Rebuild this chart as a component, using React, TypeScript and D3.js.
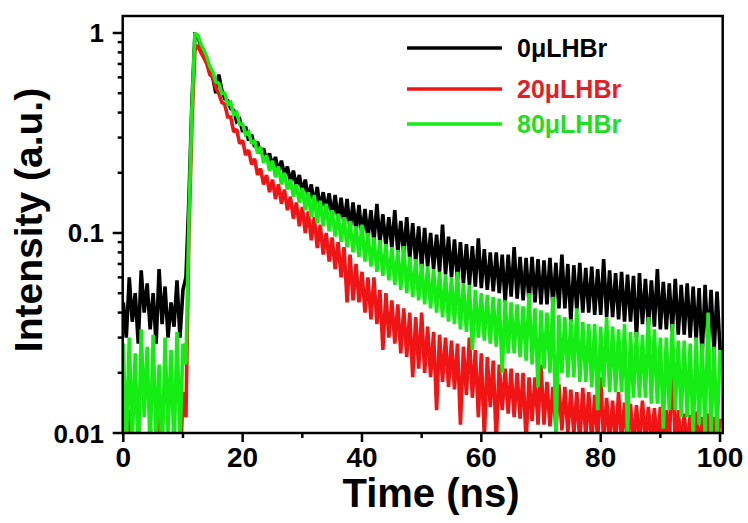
import React, { useEffect, useRef } from "react";
import * as d3 from "d3";

// decay traces, one sample every 0.5 ns from 0 to 100 ns
const timeStep = 0.5;

const intensity0 = [
  0.045, 0.03, 0.06, 0.036, 0.05, 0.028, 0.065, 0.04, 0.056, 0.033,
  0.05, 0.028, 0.066, 0.035, 0.054, 0.03, 0.045, 0.034, 0.058, 0.03,
  0.052, 0.06, 0.15, 0.45, 0.98, 0.96, 0.86, 0.8, 0.72, 0.64,
  0.6, 0.5, 0.62, 0.52, 0.47, 0.46, 0.42, 0.41, 0.36, 0.37,
  0.32, 0.34, 0.29, 0.31, 0.27, 0.285, 0.25, 0.265, 0.23, 0.25,
  0.215, 0.24, 0.2, 0.23, 0.195, 0.215, 0.18, 0.205, 0.17, 0.195,
  0.16, 0.185, 0.148, 0.175, 0.138, 0.17, 0.132, 0.16, 0.128, 0.158,
  0.12, 0.155, 0.115, 0.15, 0.11, 0.148, 0.104, 0.142, 0.102, 0.138,
  0.097, 0.132, 0.094, 0.13, 0.09, 0.14, 0.089, 0.124, 0.086, 0.12,
  0.084, 0.13, 0.08, 0.115, 0.078, 0.12, 0.074, 0.112, 0.072, 0.108,
  0.066, 0.106, 0.068, 0.1, 0.066, 0.098, 0.064, 0.11, 0.062, 0.096,
  0.06, 0.093, 0.058, 0.09, 0.056, 0.088, 0.055, 0.086, 0.054, 0.094,
  0.053, 0.083, 0.052, 0.08, 0.051, 0.08, 0.05, 0.078, 0.045, 0.078,
  0.048, 0.085, 0.047, 0.076, 0.046, 0.075, 0.045, 0.076, 0.045, 0.074,
  0.044, 0.073, 0.044, 0.075, 0.043, 0.071, 0.042, 0.078, 0.042, 0.07,
  0.036, 0.069, 0.041, 0.071, 0.04, 0.067, 0.04, 0.068, 0.039, 0.066,
  0.039, 0.074, 0.038, 0.065, 0.038, 0.063, 0.037, 0.064, 0.036, 0.062,
  0.036, 0.061, 0.03, 0.063, 0.035, 0.059, 0.034, 0.058, 0.034, 0.066,
  0.033, 0.057, 0.033, 0.056, 0.032, 0.059, 0.031, 0.055, 0.031, 0.056,
  0.03, 0.054, 0.029, 0.053, 0.024, 0.055, 0.027, 0.052, 0.025, 0.051,
  0.026,
];

const intensity20 = [
  0.014, 0.006, 0.013, 0.007, 0.005, 0.012, 0.006, 0.005, 0.007, 0.011,
  0.006, 0.005, 0.013, 0.006, 0.005, 0.007, 0.006, 0.011, 0.005, 0.006,
  0.016, 0.012, 0.1, 0.35, 0.82, 0.87, 0.8, 0.75, 0.7, 0.62,
  0.6, 0.53, 0.5, 0.45, 0.44, 0.38, 0.38, 0.32, 0.33, 0.28,
  0.29, 0.245, 0.26, 0.22, 0.235, 0.195, 0.21, 0.175, 0.195, 0.16,
  0.185, 0.148, 0.175, 0.14, 0.165, 0.13, 0.152, 0.118, 0.142, 0.108,
  0.135, 0.1, 0.128, 0.092, 0.12, 0.084, 0.11, 0.078, 0.1, 0.072,
  0.095, 0.066, 0.09, 0.06, 0.085, 0.045, 0.078, 0.046, 0.07, 0.045,
  0.064, 0.04, 0.06, 0.037, 0.06, 0.035, 0.052, 0.026, 0.05, 0.03,
  0.046, 0.028, 0.044, 0.025, 0.042, 0.024, 0.04, 0.019, 0.038, 0.021,
  0.04, 0.02, 0.034, 0.019, 0.032, 0.013, 0.031, 0.018, 0.03, 0.017,
  0.029, 0.0165, 0.028, 0.011, 0.027, 0.0155, 0.03, 0.015, 0.026, 0.012,
  0.025, 0.0095, 0.024, 0.0135, 0.023, 0.009, 0.022, 0.013, 0.021, 0.0125,
  0.021, 0.012, 0.02, 0.0118, 0.02, 0.009, 0.019, 0.0115, 0.019, 0.011,
  0.022, 0.011, 0.018, 0.0108, 0.017, 0.0105, 0.0175, 0.0103, 0.017, 0.01,
  0.0165, 0.0098, 0.016, 0.009, 0.0168, 0.0095, 0.016, 0.009, 0.0155, 0.0092,
  0.019, 0.009, 0.015, 0.009, 0.0145, 0.0088, 0.016, 0.009, 0.0142, 0.0088,
  0.014, 0.0087, 0.0138, 0.0088, 0.0145, 0.009, 0.0135, 0.0087, 0.0133, 0.0086,
  0.0135, 0.0086, 0.013, 0.0085, 0.025, 0.0085, 0.013, 0.0084, 0.0125, 0.0084,
  0.0123, 0.0083, 0.0128, 0.0083, 0.012, 0.0082, 0.0125, 0.0082, 0.012, 0.0082,
  0.0118,
];

const intensity80 = [
  0.028, 0.008, 0.03, 0.009, 0.025, 0.007, 0.033, 0.012, 0.027, 0.008,
  0.031, 0.009, 0.022, 0.007, 0.03, 0.01, 0.026, 0.008, 0.032, 0.009,
  0.028, 0.022, 0.12, 0.42, 1.0, 0.97, 0.88, 0.82, 0.76, 0.68,
  0.64, 0.57, 0.56, 0.5, 0.5, 0.44, 0.45, 0.39, 0.4, 0.35,
  0.35, 0.31, 0.32, 0.28, 0.29, 0.25, 0.27, 0.225, 0.245, 0.205,
  0.23, 0.19, 0.215, 0.175, 0.2, 0.165, 0.185, 0.152, 0.175, 0.142,
  0.168, 0.13, 0.16, 0.12, 0.155, 0.112, 0.145, 0.108, 0.14, 0.102,
  0.13, 0.096, 0.125, 0.09, 0.12, 0.085, 0.115, 0.08, 0.108, 0.076,
  0.11, 0.072, 0.1, 0.068, 0.095, 0.064, 0.092, 0.061, 0.088, 0.058,
  0.085, 0.055, 0.082, 0.052, 0.086, 0.05, 0.076, 0.048, 0.074, 0.046,
  0.07, 0.044, 0.068, 0.042, 0.066, 0.04, 0.064, 0.038, 0.062, 0.036,
  0.06, 0.035, 0.064, 0.033, 0.056, 0.032, 0.055, 0.026, 0.052, 0.03,
  0.05, 0.029, 0.049, 0.028, 0.048, 0.027, 0.047, 0.02, 0.046, 0.025,
  0.045, 0.025, 0.044, 0.024, 0.043, 0.023, 0.05, 0.022, 0.042, 0.017,
  0.041, 0.021, 0.04, 0.02, 0.048, 0.0095, 0.039, 0.02, 0.038, 0.019,
  0.037, 0.019, 0.042, 0.018, 0.036, 0.018, 0.035, 0.017, 0.035, 0.013,
  0.034, 0.017, 0.038, 0.016, 0.034, 0.016, 0.033, 0.016, 0.035, 0.0098,
  0.032, 0.015, 0.032, 0.015, 0.031, 0.015, 0.038, 0.014, 0.033, 0.014,
  0.03, 0.0105, 0.03, 0.013, 0.035, 0.013, 0.029, 0.012, 0.029, 0.012,
  0.028, 0.0095, 0.03, 0.011, 0.028, 0.0098, 0.04, 0.01, 0.027, 0.0098,
  0.026,
];

const seriesNames = ["0μLHBr", "20μLHBr", "80μLHBr"];
const seriesColors = ["#000000", "#f01414", "#14ec14"];
const legendTextColors = ["#000000", "#e41e24", "#22dd22"];

const xTicks = [0, 20, 40, 60, 80, 100];
const xMinorTicks = [10, 30, 50, 70, 90];
const yTicks = [0.01, 0.1, 1];
const yTickLabels = ["0.01", "0.1", "1"];

const W = 748;
const H = 523;
const font = "'Liberation Sans', Arial, sans-serif";

export default function App() {
  const ref = useRef<SVGSVGElement>(null);

  useEffect(() => {
    const svg = d3.select(ref.current);
    svg.selectAll("*").remove();

    const left = 122.7, right = 722.7, top = 16, bottom = 433;
    const x = d3.scaleLinear().domain([-0.1, 100.45]).range([left, right]);
    const y = d3.scaleLog().domain([0.01, 1.216]).range([bottom, top]);

    svg.append("defs").append("clipPath").attr("id", "plotClip")
      .append("rect")
      .attr("x", left).attr("y", top)
      .attr("width", right - left).attr("height", bottom - top);

    const line = d3.line<number>()
      .x((_, i) => x(i * timeStep))
      .y((d) => y(Math.max(d, 0.001)));

    const plot = svg.append("g").attr("clip-path", "url(#plotClip)");
    [intensity0, intensity20, intensity80].forEach((data, k) => {
      plot.append("path")
        .datum(data)
        .attr("d", line)
        .attr("fill", "none")
        .attr("stroke", seriesColors[k])
        .attr("stroke-width", 3.6)
        .attr("stroke-linejoin", "miter")
        .attr("stroke-miterlimit", 2);
    });

    // frame
    svg.append("rect")
      .attr("x", left).attr("y", top)
      .attr("width", right - left).attr("height", bottom - top)
      .attr("fill", "none").attr("stroke", "#000").attr("stroke-width", 2.5);

    // x ticks
    const axis = svg.append("g").attr("stroke", "#000").attr("stroke-width", 2.5);
    xTicks.forEach((t) => {
      axis.append("line").attr("x1", x(t)).attr("x2", x(t))
        .attr("y1", bottom).attr("y2", bottom + 9);
    });
    xMinorTicks.forEach((t) => {
      axis.append("line").attr("x1", x(t)).attr("x2", x(t))
        .attr("y1", bottom).attr("y2", bottom + 5);
    });

    // y ticks (log minor ticks from the scale)
    const minor = y.ticks().filter((t) => !yTicks.some((m) => Math.abs(m - t) < 1e-9));
    yTicks.forEach((t) => {
      axis.append("line").attr("x1", left - 10).attr("x2", left)
        .attr("y1", y(t)).attr("y2", y(t));
    });
    minor.forEach((t) => {
      axis.append("line").attr("x1", left - 5).attr("x2", left)
        .attr("y1", y(t)).attr("y2", y(t));
    });

    const labels = svg.append("g")
      .attr("font-family", font).attr("font-weight", "bold").attr("fill", "#000");

    xTicks.forEach((t) => {
      labels.append("text")
        .attr("x", x(t)).attr("y", 467)
        .attr("text-anchor", "middle").attr("font-size", 28)
        .text(String(t));
    });
    yTicks.forEach((t, i) => {
      labels.append("text")
        .attr("x", 104).attr("y", y(t) + 9.5)
        .attr("text-anchor", "end").attr("font-size", 26)
        .text(yTickLabels[i]);
    });

    labels.append("text")
      .attr("x", 431).attr("y", 507)
      .attr("text-anchor", "middle").attr("font-size", 40)
      .text("Time (ns)");

    labels.append("text")
      .attr("transform", `translate(42,220) rotate(-90)`)
      .attr("text-anchor", "middle").attr("font-size", 39)
      .text("Intensity (a.u.)");

    // legend
    const legendY = [48, 89, 124];
    seriesNames.forEach((name, k) => {
      svg.append("line")
        .attr("x1", 407).attr("x2", 502)
        .attr("y1", legendY[k]).attr("y2", legendY[k])
        .attr("stroke", seriesColors[k]).attr("stroke-width", 3.5);
      svg.append("text")
        .attr("x", 517).attr("y", legendY[k] + 8.5)
        .attr("font-family", font).attr("font-weight", "bold")
        .attr("font-size", 25).attr("fill", legendTextColors[k])
        .text(name);
    });
  }, []);

  return (
    <svg
      ref={ref}
      width={W}
      height={H}
      style={{ position: "absolute", left: 0, top: 0, background: "#fff" }}
    />
  );
}
